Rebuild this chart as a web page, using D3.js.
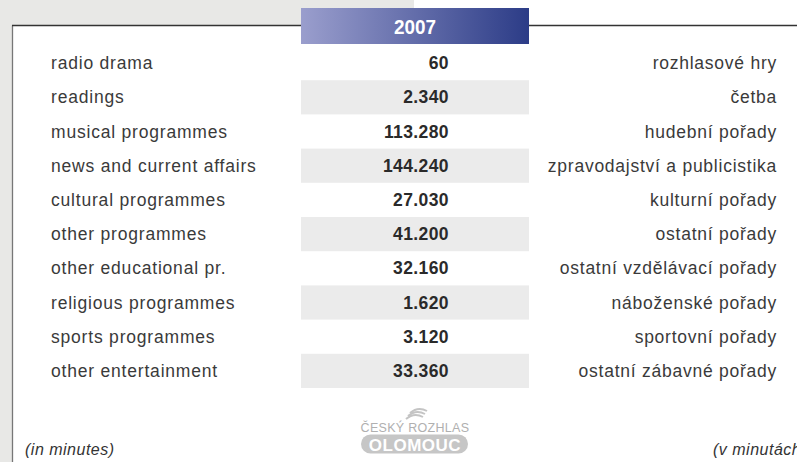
<!DOCTYPE html>
<html>
<head>
<meta charset="utf-8">
<script src="https://cdn.jsdelivr.net/npm/d3@7"></script>
<style>
  body { margin: 0; background: #fff; }
  svg { display: block; font-family: 'Liberation Sans', Arial, sans-serif; }
</style>
</head>
<body>
<svg width="797" height="462"></svg>
<script>
const year = '2007'
const labelsEn = ['radio drama', 'readings', 'musical programmes', 'news and current affairs',
  'cultural programmes', 'other programmes', 'other educational pr.', 'religious programmes',
  'sports programmes', 'other entertainment']
const labelsCz = ['rozhlasové hry', 'četba', 'hudební pořady', 'zpravodajství a publicistika',
  'kulturní pořady', 'ostatní pořady', 'ostatní vzdělávací pořady', 'náboženské pořady',
  'sportovní pořady', 'ostatní zábavné pořady']
const minutes = [60, 2340, 113280, 144240, 27030, 41200, 32160, 1620, 3120, 33360]

const svg = d3.select('svg')
const width = +svg.attr('width')
const height = +svg.attr('height')

const colLeft = 301
const colRight = 529

const fmt = v => d3.format(',')(v).replace(/,/g, '.')

// background
svg.append('rect').attr('x', 0).attr('y', 0).attr('width', 414).attr('height', 25).attr('fill', '#e8e8e6')
svg.append('rect').attr('x', 0).attr('y', 0).attr('width', 12).attr('height', height).attr('fill', '#e8e8e6')

// frame lines
svg.append('path')
  .attr('d', `M12.5,${height} V25.5`)
  .attr('fill', 'none').attr('stroke', '#777').attr('stroke-width', 1.3)
svg.append('path')
  .attr('d', `M12,25.5 H${colLeft} M${colRight},25.5 H${width}`)
  .attr('fill', 'none').attr('stroke', '#333').attr('stroke-width', 1.3)

const yScale = d3.scaleBand()
  .domain(d3.range(labelsEn.length))
  .range([46, 388])

// stripes
svg.selectAll('.stripe')
  .data(d3.range(labelsEn.length).filter(i => i % 2 === 1))
  .join('rect')
  .attr('class', 'stripe')
  .attr('x', colLeft)
  .attr('width', colRight - colLeft)
  .attr('y', d => yScale(d))
  .attr('height', yScale.bandwidth())
  .attr('fill', '#ebebeb')

// header
const grad = svg.append('defs').append('linearGradient').attr('id', 'hg')
grad.append('stop').attr('offset', '0%').attr('stop-color', '#9a9ecd')
grad.append('stop').attr('offset', '100%').attr('stop-color', '#2c3c87')
svg.append('rect').attr('x', colLeft).attr('y', 8).attr('width', colRight - colLeft).attr('height', 36).attr('fill', 'url(#hg)')
svg.append('text')
  .attr('transform', `translate(${(colLeft + colRight) / 2}, 33.5) scale(0.9, 1)`)
  .attr('text-anchor', 'middle')
  .attr('fill', '#fff')
  .attr('font-weight', 'bold').attr('font-size', 21)
  .text(year)

const rows = svg.selectAll('.row')
  .data(labelsEn.map((d, i) => ({ en: d, cz: labelsCz[i], v: minutes[i], i })))
  .join('g')
  .attr('transform', d => `translate(0, ${yScale(d.i) + yScale.bandwidth() / 2 + 6})`)

rows.append('text').attr('x', 51).attr('fill', '#3a3a3a').attr('font-size', 17.5)
  .attr('letter-spacing', 0.8).text(d => d.en)
rows.append('text').attr('x', 449).attr('text-anchor', 'end').attr('fill', '#2a2a2a')
  .attr('font-weight', 'bold').attr('font-size', 17.5).attr('letter-spacing', 0.4).text(d => fmt(d.v))
rows.append('text').attr('x', 777).attr('text-anchor', 'end').attr('fill', '#3a3a3a')
  .attr('font-size', 17.5).attr('letter-spacing', 0.75).text(d => d.cz)

// footnotes (the Czech one runs off the right edge, as in the original)
svg.append('text').attr('x', 25).attr('y', 455).attr('font-style', 'italic')
  .attr('font-size', 16).attr('letter-spacing', 0.5).attr('fill', '#333').text('(in minutes)')
svg.append('text').attr('x', 713).attr('y', 455).attr('font-style', 'italic')
  .attr('font-size', 16).attr('letter-spacing', 0.5).attr('fill', '#333').text('(v minutách)')

// logo
const logo = svg.append('g').attr('transform', 'translate(415, 0)')
;[0, 1, 2].forEach(k => {
  logo.append('path')
    .attr('d', `M${-9 + k * 2},${419 - k * 3} q8,-7 17,-2`)
    .attr('fill', 'none').attr('stroke', '#c4c4c4').attr('stroke-width', 2)
})
logo.append('text').attr('y', 432).attr('text-anchor', 'middle').attr('font-size', 12.5)
  .attr('fill', '#b0b0b0').attr('letter-spacing', 0.3).text('ČESKÝ ROZHLAS')
logo.append('rect').attr('x', -54).attr('y', 434.5).attr('width', 107).attr('height', 19).attr('rx', 9.5)
  .attr('fill', '#c6c6c6')
logo.append('text').attr('y', 450.5).attr('text-anchor', 'middle').attr('font-size', 17)
  .attr('font-weight', 'bold').attr('letter-spacing', 0.5).attr('fill', '#fff').text('OLOMOUC')
</script>
</body>
</html>
